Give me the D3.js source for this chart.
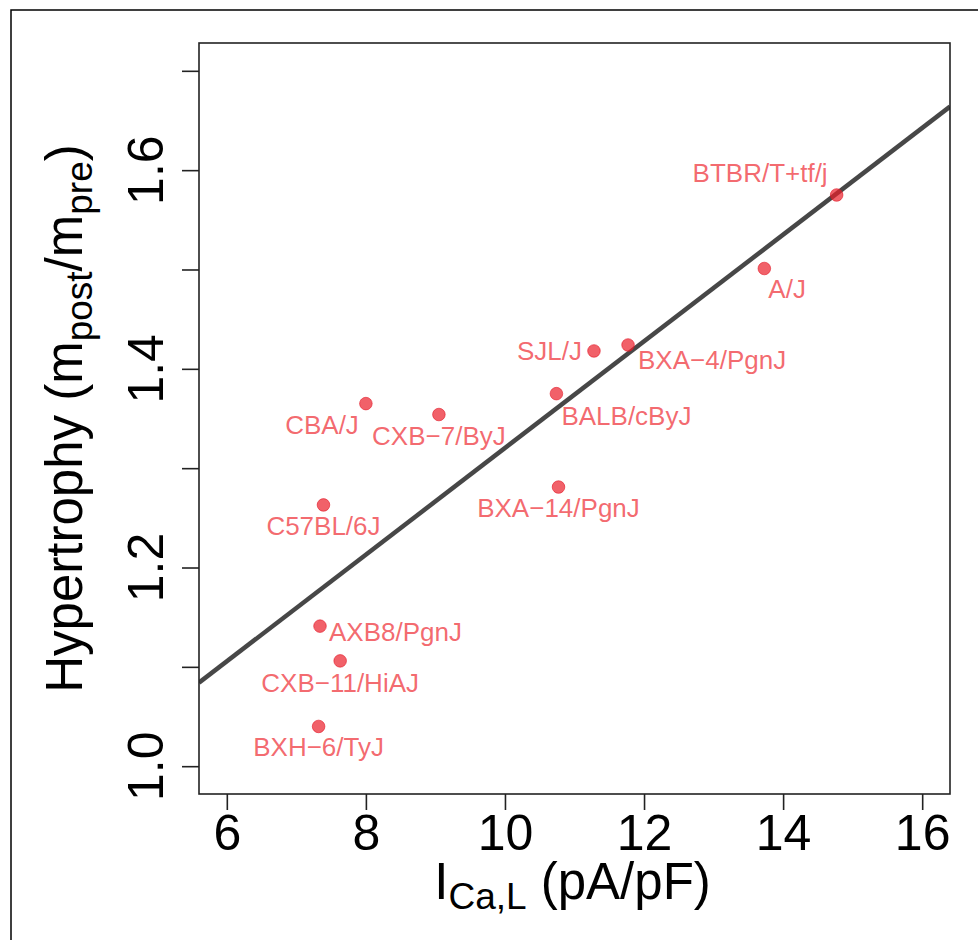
<!DOCTYPE html>
<html>
<head>
<meta charset="utf-8">
<script src="https://cdn.jsdelivr.net/npm/d3@7"></script>
<style>
  html, body { margin: 0; padding: 0; background: #fff; }
  svg { display: block; font-family: "Liberation Sans", Arial, Helvetica, sans-serif; }
</style>
</head>
<body>
<svg id="chart" width="978" height="940"></svg>
<script>
// ---------------- data ----------------
const strains = ["BTBR/T+tf/j", "A/J", "BXA\u22124/PgnJ", "SJL/J", "BALB/cByJ", "CBA/J",
                 "CXB\u22127/ByJ", "BXA\u221214/PgnJ", "C57BL/6J", "AXB8/PgnJ", "CXB\u221211/HiAJ", "BXH\u22126/TyJ"];
const ica = [14.77, 13.73, 11.77, 11.28, 10.74, 8.00, 9.05, 10.77, 7.39, 7.34, 7.63, 7.32];
const hypertrophy = [1.575, 1.501, 1.424, 1.418, 1.375, 1.365, 1.354, 1.281, 1.263, 1.141, 1.106, 1.040];
const xTicks = [6, 8, 10, 12, 14, 16];
const yTicks = [1.0, 1.1, 1.2, 1.3, 1.4, 1.5, 1.6, 1.7];
const yTickLabels = [1.0, 1.2, 1.4, 1.6];
const xLimits = [6, 16];
const yLimits = [1.0, 1.7];
const fitIntercept = 0.7834;
const fitSlope = 0.05369;

// label placement (anchor, dx, dy in px relative to point)
const labelPlacement = [
  ["end", -9, -13], ["start", 4, 30], ["start", 10, 24], ["end", -12, 9],
  ["start", 5, 31], ["end", -7, 30], ["middle", 0, 30], ["middle", 0, 30],
  ["middle", 0, 30], ["start", 9, 15], ["middle", 0, 31], ["middle", 0, 30]
];

// ---------------- layout ----------------
const svg = d3.select("#chart");
const plot = { left: 199, right: 950, top: 43, bottom: 794 };
const ext = (l) => { const r = (l[1] - l[0]) * 0.04; return [l[0] - r, l[1] + r]; };

const x = d3.scaleLinear().domain(ext(xLimits)).range([plot.left, plot.right]);
const y = d3.scaleLinear().domain(ext(yLimits)).range([plot.bottom, plot.top]);

// outer frame
svg.append("rect").attr("x", 11).attr("y", 10).attr("width", 1000).attr("height", 1000)
  .attr("fill", "none").attr("stroke", "#000").attr("stroke-width", 1.5);

// clip for line
svg.append("clipPath").attr("id", "clip").append("rect")
  .attr("x", plot.left).attr("y", plot.top)
  .attr("width", plot.right - plot.left).attr("height", plot.bottom - plot.top);

// regression line
const xd = x.domain();
svg.append("line")
  .attr("clip-path", "url(#clip)")
  .attr("x1", x(xd[0])).attr("y1", y(fitIntercept + fitSlope * xd[0]))
  .attr("x2", x(xd[1])).attr("y2", y(fitIntercept + fitSlope * xd[1]))
  .attr("stroke", "#474747").attr("stroke-width", 4.5);

// points
const pts = strains.map((s, i) => ({ name: s, x: ica[i], y: hypertrophy[i], p: labelPlacement[i] }));
svg.append("g").selectAll("circle").data(pts).join("circle")
  .attr("cx", d => x(d.x)).attr("cy", d => y(d.y)).attr("r", 6.3)
  .attr("fill", "rgba(235,30,42,0.7)")
  .attr("stroke", "rgba(225,20,35,0.72)").attr("stroke-width", 0.8);

// labels
svg.append("g").selectAll("text").data(pts).join("text")
  .attr("x", d => x(d.x) + d.p[1]).attr("y", d => y(d.y) + d.p[2])
  .attr("text-anchor", d => d.p[0])
  .attr("font-size", 26).attr("fill", "rgba(238,40,48,0.7)")
  .text(d => d.name);

// box
svg.append("rect").attr("x", plot.left).attr("y", plot.top)
  .attr("width", plot.right - plot.left).attr("height", plot.bottom - plot.top)
  .attr("fill", "none").attr("stroke", "#222").attr("stroke-width", 1.6);

// x axis
const xAxis = svg.append("g").attr("transform", `translate(0,${plot.bottom})`)
  .call(d3.axisBottom(x).tickValues(xTicks).tickSize(16).tickPadding(6).tickFormat(d3.format("d")));
xAxis.select(".domain").remove();
xAxis.selectAll(".tick line").attr("stroke", "#222").attr("stroke-width", 1.6);
xAxis.selectAll(".tick text").attr("font-size", 50).attr("fill", "#000")
  .attr("font-family", "Liberation Sans, Arial, sans-serif")
  .attr("dy", null).attr("y", 56);

// y axis
const yAxis = svg.append("g").attr("transform", `translate(${plot.left},0)`)
  .call(d3.axisLeft(y).tickValues(yTicks).tickSize(17).tickFormat(""));
yAxis.select(".domain").remove();
yAxis.selectAll(".tick line").attr("stroke", "#222").attr("stroke-width", 1.6);

svg.append("g").selectAll("text").data(yTickLabels).join("text")
  .attr("transform", d => `translate(163,${y(d)}) rotate(-90)`)
  .attr("text-anchor", "middle").attr("font-size", 50).attr("fill", "#000")
  .text(d => d3.format(".1f")(d));

// x title
const xt = svg.append("text").attr("x", (plot.left + plot.right) / 2 - 2).attr("y", 899)
  .attr("text-anchor", "middle").attr("font-size", 51).attr("fill", "#000");
xt.append("tspan").text("I");
xt.append("tspan").attr("font-size", 37).attr("dy", 10).text("Ca,L");
xt.append("tspan").attr("dy", -10).text(" (pA/pF)");

// y title
const yt = svg.append("text")
  .attr("transform", `translate(82,${(plot.top + plot.bottom) / 2}) rotate(-90)`)
  .attr("text-anchor", "middle").attr("font-size", 51).attr("fill", "#000");
yt.append("tspan").text("Hypertrophy (m");
yt.append("tspan").attr("font-size", 37).attr("dy", 10).text("post");
yt.append("tspan").attr("dy", -10).text("/m");
yt.append("tspan").attr("font-size", 37).attr("dy", 10).text("pre");
yt.append("tspan").attr("dy", -10).text(")");
</script>
</body>
</html>
